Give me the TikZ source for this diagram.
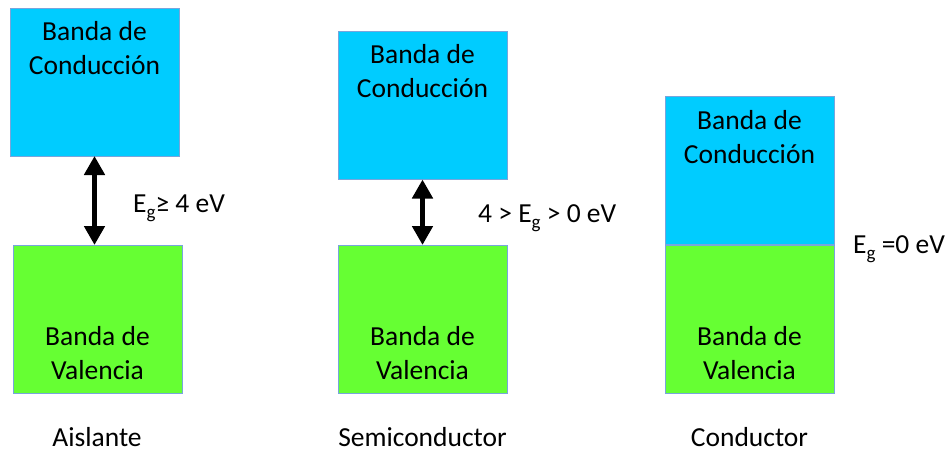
\documentclass[tikz,border=0pt]{standalone}
\usepackage{fontspec}
\setmainfont{Carlito}
\usetikzlibrary{arrows.meta}
\definecolor{cbblue}{RGB}{0,204,255}
\definecolor{vbgreen}{RGB}{102,255,51}
\definecolor{edgeblue}{RGB}{120,165,220}
\tikzset{
  band/.style={draw=edgeblue, line width=0.8pt, inner sep=0pt, outer sep=0pt, minimum width=169pt, minimum height=148pt},
  cband/.style={band, fill=cbblue},
  vband/.style={band, fill=vbgreen},
  txt/.style={inner sep=0pt, font=\fontsize{27.5pt}{34.5pt}\selectfont},
  ctxt/.style={txt, anchor=base},
  ltxt/.style={txt, anchor=base west},
  gaparrow/.style={line width=5pt, {Triangle[width=20pt,length=19pt]}-{Triangle[width=20pt,length=19pt]}}
}
\newcommand{\Eg}{E\raisebox{-0.25em}{\fontsize{19pt}{19pt}\selectfont g}}
\begin{document}
\begin{tikzpicture}[x=1pt,y=-1pt]
\useasboundingbox (0,0) rectangle (948,453);
% Aislante
\node[cband] (cb1) at (94.5,82) {};
\node[vband] (vb1) at (97.5,319) {};
\node[ctxt] (cb1a) at (94.5,40) {Banda de};
\node[ctxt] (cb1b) at (94.5,74) {Conducción};
\node[ctxt] (vb1a) at (97.5,345) {Banda de};
\node[ctxt] (vb1b) at (97.5,379) {Valencia};
\draw[gaparrow] (cb1.south) -- (cb1.south |- vb1.north);
\node[ltxt] (eg1) at (133,212) {\Eg≥ 4 eV};
\node[ctxt] (n1) at (97,446) {Aislante};
% Semiconductor
\node[cband] (cb2) at (422.5,105.5) {};
\node[vband] (vb2) at (422.5,319) {};
\node[ctxt] (cb2a) at (422.5,63) {Banda de};
\node[ctxt] (cb2b) at (422.5,97) {Conducción};
\node[ctxt] (vb2a) at (422.5,345) {Banda de};
\node[ctxt] (vb2b) at (422.5,379) {Valencia};
\draw[gaparrow] (cb2.south) -- (cb2.south |- vb2.north);
\node[ltxt] (eg2) at (478,222) {4 > \Eg{} > 0 eV};
\node[ctxt] (n2) at (422.5,446) {Semiconductor};
% Conductor
\node[cband] (cb3) at (749.5,170.5) {};
\node[vband] (vb3) at (749.5,319) {};
\node[ctxt] (cb3a) at (749.5,129) {Banda de};
\node[ctxt] (cb3b) at (749.5,163) {Conducción};
\node[ctxt] (vb3a) at (749.5,345) {Banda de};
\node[ctxt] (vb3b) at (749.5,379) {Valencia};
\node[ltxt] (eg3) at (853,253) {\Eg{} =0 eV};
\node[ctxt] (n3) at (749.5,446) {Conductor};
\end{tikzpicture}
\end{document}
